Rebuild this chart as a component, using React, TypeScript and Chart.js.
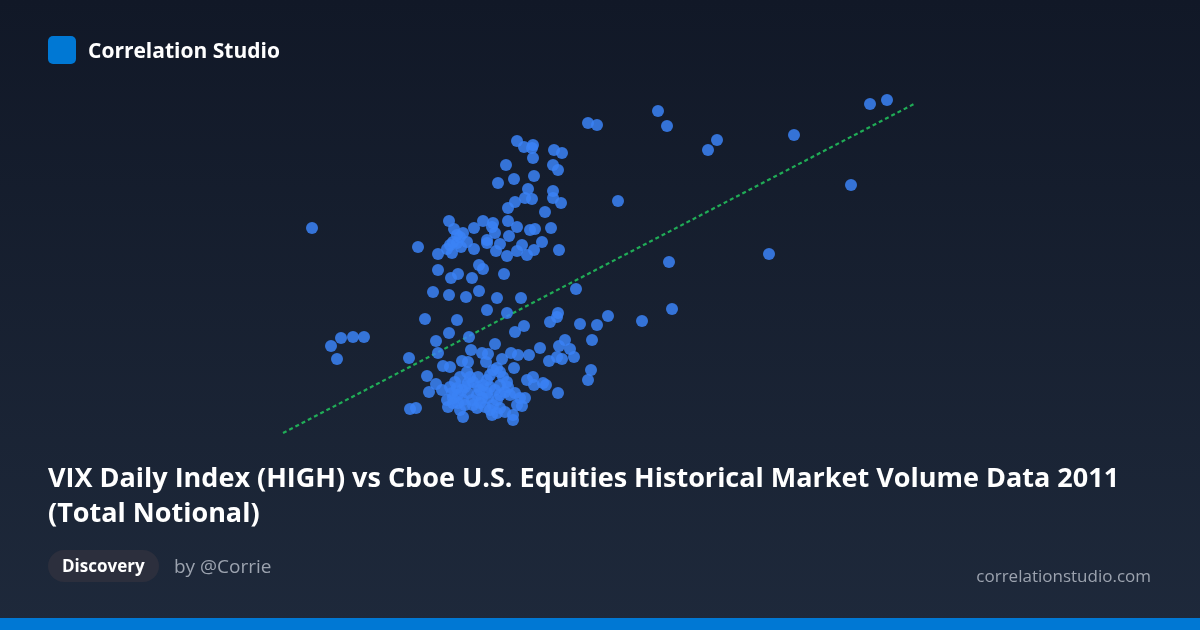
import React, { useEffect, useRef } from "react";
import { Chart, registerables } from "chart.js";

Chart.register(...registerables);

// x: VIX Daily Index (HIGH), y: Cboe U.S. Equities Total Notional ($B)
const vixHigh: number[] = [
  15.6, 29.4, 29.85, 32.9, 33.35, 35.4, 35.85, 39.7, 43.5, 44.35, 42.55, 30.9, 38.45, 33.45, 33.6, 32.1, 30.4,
  25.85, 26.2, 26.65, 26.6, 27.7, 28.1, 26.65, 25.3, 27.65, 27.9, 25.7, 26.7, 24.9, 26.4, 27.65, 26.25, 26.6, 27.65,
  28.05, 25.75, 25.4, 27.25, 22.45, 24.15, 24.65, 24.6, 25.4, 23.7, 22.7, 23.15, 23.0, 25.85, 26.5, 26.75, 27.55,
  24.75, 25.45, 24.35, 24.35, 23.35, 22.85, 22.65, 20.9, 25.0, 27.1, 26.1, 22.35, 23.05, 23.7, 24.8, 25.85, 26.7,
  27.95, 21.9, 22.6, 25.35, 26.35, 22.85, 22.5,
  23.95, 24.15, 21.9, 22.9, 22.55, 23.6, 25.2, 21.65, 23.95, 22.45, 23.3, 24.85, 26.05, 28.8, 24.35, 25.35, 21.25,
  22.85, 27.9, 27.85, 27.5, 29.0, 29.85, 16.55, 17.05, 17.65, 18.2, 16.85, 20.45, 21.8, 22.45, 23.45, 24.75, 25.75,
  26.2, 29.6, 28.25, 27.95, 28.5, 28.7, 27.45, 27.85, 28.1, 27.0, 26.45, 25.55, 25.9, 23.55, 24.1, 24.4, 21.9, 22.15,
  22.5, 23.1, 23.4, 24.3, 25.1, 25.7, 29.55, 29.4, 21.35, 21.8, 21.45, 22.1, 26.35, 26.65, 26.7, 27.15, 27.3, 27.9,
  20.5, 20.8, 23.15, 25.65, 25.65,
  22.35, 22.65, 22.9, 23.1, 23.25, 23.4, 23.5, 23.35, 23.0, 22.75, 22.5, 22.6, 22.9, 23.25, 23.6, 23.85, 24.0, 24.15,
  24.35, 24.5, 24.65, 24.85, 25.0, 25.15, 25.35, 25.4, 25.25, 25.0, 24.85, 24.65, 24.5, 24.25, 24.0, 23.85, 23.65,
  24.4, 24.75, 25.0, 25.5, 25.75, 26.0, 26.25, 25.85, 26.1, 25.0, 25.25, 24.85, 23.9, 23.65, 23.15, 22.65, 22.4, 23.4,
  24.6, 23.0, 24.1, 22.85, 24.35, 23.9, 24.5,
];

const totalNotional: number[] = [
  292, 397, 395, 409, 394, 370, 380, 385, 416, 420, 335, 319, 266, 258, 211, 199, 204,
  379, 373, 375, 372, 370, 367, 362, 355, 355, 350, 341, 344, 337, 331, 329, 322, 321, 322,
  317, 318, 312, 308, 299, 299, 297, 293, 299, 292, 291, 287, 283, 293, 290, 291, 292,
  287, 284, 280, 277, 278, 277, 278, 273, 276, 278, 275, 271, 273, 271, 269, 269, 270,
  270, 266, 267, 264, 265, 285, 275,
  255, 251, 250, 246, 242, 242, 246, 228, 229, 225, 223, 222, 222, 231, 210, 207, 201,
  200, 207, 203, 198, 196, 195, 174, 182, 183, 183, 161, 162, 179, 187, 183, 176, 188,
  194, 180, 180, 174, 171, 163, 159, 163, 161, 172, 165, 167, 165, 170, 167, 166, 167, 154,
  153, 159, 158, 158, 161, 152, 150, 140, 144, 136, 128, 130, 140, 143, 135, 137, 135, 127,
  111, 112, 103, 105, 100,
  120, 122, 125, 130, 133, 137, 143, 148, 143, 138, 133, 127, 117, 115, 120, 125, 130, 135,
  140, 145, 150, 152, 148, 143, 138, 133, 128, 125, 120, 115, 110, 113, 117, 112, 115,
  122, 130, 135, 125, 127, 122, 122, 115, 114, 112, 108, 107, 143, 138, 120, 117, 113, 127,
  105, 110, 122, 132, 127, 133, 133,
];

const trendX: number[] = [14.15, 45.7];
const trendY: number[] = [87, 416];

const TITLE =
  "VIX Daily Index (HIGH) vs Cboe U.S. Equities Historical Market Volume Data 2011 (Total Notional)";

export default function App() {
  const ref = useRef<HTMLCanvasElement | null>(null);

  useEffect(() => {
    document.body.style.margin = "0";
    if (!ref.current) return;
    const points = vixHigh.map((x, i) => ({ x, y: totalNotional[i] }));
    const trend = trendX.map((x, i) => ({ x, y: trendY[i] }));
    const chart = new Chart(ref.current, {
      type: "scatter",
      data: {
        datasets: [
          {
            type: "line",
            data: trend,
            borderColor: "rgba(34,197,94,0.85)",
            borderWidth: 2.2,
            borderDash: [4, 3],
            pointRadius: 0,
            fill: false,
            clip: false,
            order: 2,
          } as any,
          {
            data: points,
            backgroundColor: "rgba(59,130,246,0.85)",
            borderWidth: 0,
            pointRadius: 6,
            pointHoverRadius: 6,
            clip: false,
            order: 1,
          } as any,
        ],
      },
      options: {
        responsive: false,
        animation: false,
        layout: { padding: { left: 280, right: 280, top: 90, bottom: 190 } },
        plugins: { legend: { display: false }, tooltip: { enabled: false } },
        scales: {
          x: { type: "linear", min: 14, max: 46, display: false },
          y: { type: "linear", min: 80, max: 430, display: false },
        },
      },
    });
    return () => chart.destroy();
  }, []);

  const font = "'Open Sans', 'Noto Sans', sans-serif";
  return (
    <div
      style={{
        position: "fixed",
        left: 0,
        top: 0,
        width: 1200,
        height: 630,
        overflow: "hidden",
        background: "linear-gradient(180deg, #111827 0%, #1e293b 100%)",
        fontFamily: font,
      }}
    >
      <canvas ref={ref} width={1200} height={630} style={{ position: "absolute", left: 0, top: 0 }} />
      <div
        style={{
          position: "absolute",
          left: 48,
          top: 36,
          width: 28,
          height: 28,
          borderRadius: 5,
          background: "#0078d4",
        }}
      />
      <div
        style={{
          position: "absolute",
          left: 88,
          top: 36,
          height: 28,
          lineHeight: "28px",
          fontSize: 21,
          fontWeight: 700,
          color: "#ffffff",
        }}
      >
        Correlation Studio
      </div>
      <div
        style={{
          position: "absolute",
          left: 48,
          top: 459,
          width: 1104,
          fontSize: 27,
          lineHeight: "35px",
          fontWeight: 700,
          color: "#ffffff",
        }}
      >
        {TITLE}
      </div>
      <div
        style={{
          position: "absolute",
          left: 48,
          top: 550,
          height: 32,
          lineHeight: "32px",
          padding: "0 14px",
          borderRadius: 16,
          background: "#2c2f3d",
          color: "#ffffff",
          fontSize: 17,
          fontWeight: 700,
        }}
      >
        Discovery
      </div>
      <div
        style={{
          position: "absolute",
          left: 174,
          top: 550,
          height: 32,
          lineHeight: "32px",
          fontSize: 19,
          color: "#9ca3af",
        }}
      >
        by @Corrie
      </div>
      <div
        style={{
          position: "absolute",
          right: 49,
          top: 562,
          height: 28,
          lineHeight: "28px",
          fontSize: 17,
          color: "#9ca3af",
        }}
      >
        correlationstudio.com
      </div>
      <div
        style={{ position: "absolute", left: 0, bottom: 0, width: 1200, height: 12, background: "#0078d4" }}
      />
    </div>
  );
}
